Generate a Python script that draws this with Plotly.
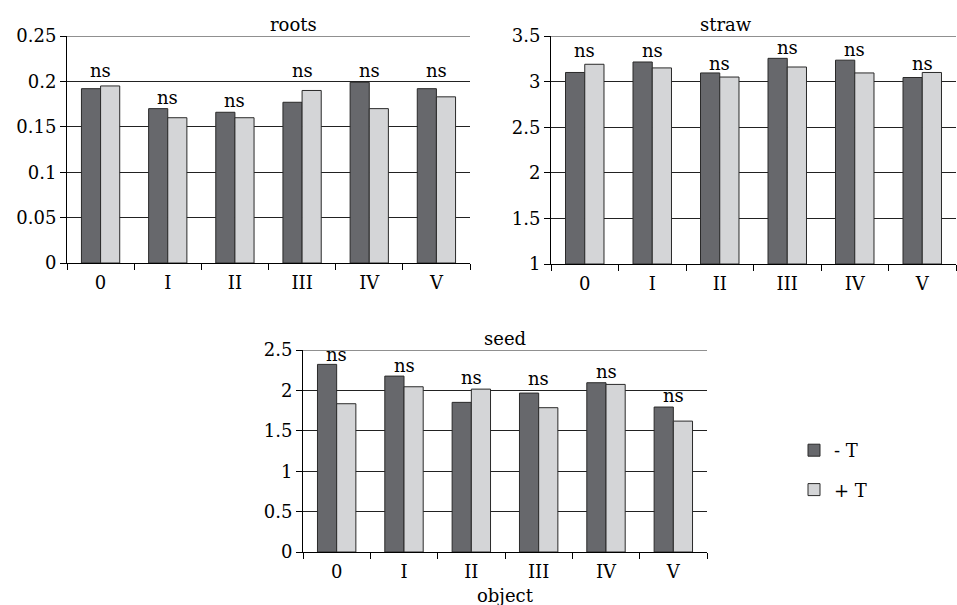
import plotly.graph_objects as go

categories = ["0", "I", "II", "III", "IV", "V"]

roots_minus = [0.192, 0.170, 0.166, 0.177, 0.199, 0.192]
roots_plus = [0.195, 0.160, 0.160, 0.190, 0.170, 0.183]
roots_ns = [0.2034, 0.174, 0.1707, 0.2034, 0.2034, 0.2034]

straw_minus = [3.10, 3.215, 3.095, 3.255, 3.235, 3.045]
straw_plus = [3.19, 3.15, 3.05, 3.16, 3.095, 3.10]
straw_ns = [3.26, 3.26, 3.12, 3.29, 3.265, 3.12]

seed_minus = [2.322, 2.177, 1.852, 1.967, 2.095, 1.794]
seed_plus = [1.835, 2.045, 2.016, 1.786, 2.074, 1.620]
seed_ns = [2.347, 2.219, 2.066, 2.054, 2.14, 1.847]

roots_ticks = [0, 0.05, 0.1, 0.15, 0.2, 0.25]
roots_ticktext = ["0", "0.05", "0.1", "0.15", "0.2", "0.25"]
straw_ticks = [1, 1.5, 2, 2.5, 3, 3.5]
straw_ticktext = ["1", "1.5", "2", "2.5", "3", "3.5"]
seed_ticks = [0, 0.5, 1, 1.5, 2, 2.5]
seed_ticktext = ["0", "0.5", "1", "1.5", "2", "2.5"]

series_names = ["- T", "+ T"]

W, H = 957, 605
FONT = "DejaVu Serif"
FS = 18
DARK = "#67686c"
LIGHT = "#d4d5d7"
EDGE = "#2a2a2a"

def px_x(p):
    return p / W

def px_y(p):
    return 1 - p / H

panels = [
    dict(name="roots", minus=roots_minus, plus=roots_plus, ns=roots_ns,
         ticks=roots_ticks, ticktext=roots_ticktext, rng=[0, 0.25],
         xd=[px_x(67), px_x(470)], yd=[px_y(263), px_y(36)]),
    dict(name="straw", minus=straw_minus, plus=straw_plus, ns=straw_ns,
         ticks=straw_ticks, ticktext=straw_ticktext, rng=[1, 3.5],
         xd=[px_x(551), px_x(956)], yd=[px_y(264), px_y(36)]),
    dict(name="seed", minus=seed_minus, plus=seed_plus, ns=seed_ns,
         ticks=seed_ticks, ticktext=seed_ticktext, rng=[0, 2.5],
         xd=[px_x(303), px_x(707)], yd=[px_y(552), px_y(350)]),
]

fig = go.Figure()
annotations = []
shapes = []
for i, p in enumerate(panels):
    sfx = "" if i == 0 else str(i + 1)
    xa, ya = "x" + sfx, "y" + sfx
    show = (i == 2)
    lo = p["rng"][0]
    fig.add_trace(go.Bar(x=categories, y=[v - lo for v in p["minus"]], base=lo,
                         name=series_names[0],
                         marker=dict(color=DARK, line=dict(color=EDGE, width=1)),
                         xaxis=xa, yaxis=ya, showlegend=show, legendgroup="a"))
    fig.add_trace(go.Bar(x=categories, y=[v - lo for v in p["plus"]], base=lo,
                         name=series_names[1],
                         marker=dict(color=LIGHT, line=dict(color=EDGE, width=1)),
                         xaxis=xa, yaxis=ya, showlegend=show, legendgroup="b"))
    fig.update_layout(**{
        "xaxis" + sfx: dict(domain=p["xd"], anchor=ya, type="category",
                            range=[-0.5, 5.5], showline=True, linecolor="black",
                            linewidth=1, ticks="outside", tickson="boundaries",
                            ticklen=6, tickcolor="black", showgrid=False,
                            automargin=False,
                            tickfont=dict(family=FONT, size=FS, color="black"),
                            ticklabelstandoff=3),
        "yaxis" + sfx: dict(domain=p["yd"], anchor=xa, range=p["rng"],
                            tickvals=p["ticks"], ticktext=p["ticktext"],
                            showline=True, linecolor="black", linewidth=1,
                            ticks="outside", ticklen=6, tickcolor="black",
                            showgrid=True, gridcolor="#222222", gridwidth=1,
                            zeroline=False, automargin=False,
                            tickfont=dict(family=FONT, size=FS, color="black")),
    })
    # top gridline at range maximum
    shapes.append(dict(type="line", xref=xa + " domain", yref=ya,
                       x0=0, x1=1, y0=p["rng"][1], y1=p["rng"][1],
                       line=dict(color="#222222", width=1), layer="below"))
    for c, v in zip(categories, p["ns"]):
        annotations.append(dict(x=c, y=v, xref=xa, yref=ya, text="ns",
                                showarrow=False, yanchor="bottom", yshift=-5,
                                font=dict(family=FONT, size=FS, color="black")))
    annotations.append(dict(x=(p["xd"][0] + p["xd"][1]) / 2, y=p["yd"][1],
                            xref="paper", yref="paper", text=p["name"],
                            showarrow=False, yanchor="bottom", yshift=-1,
                            font=dict(family=FONT, size=FS, color="black")))

annotations.append(dict(x=(panels[2]["xd"][0] + panels[2]["xd"][1]) / 2,
                        y=px_y(595), xref="paper", yref="paper", text="object",
                        showarrow=False, yanchor="middle",
                        font=dict(family=FONT, size=FS, color="black")))

fig.update_layout(
    width=W, height=H,
    margin=dict(l=0, r=0, t=0, b=0, autoexpand=False),
    paper_bgcolor="white", plot_bgcolor="white",
    barmode="group", bargap=0.43, bargroupgap=0,
    annotations=annotations, shapes=shapes,
    showlegend=True,
    legend=dict(x=px_x(794), y=px_y(432), xanchor="left", yanchor="top",
                font=dict(family=FONT, size=FS, color="black"),
                tracegroupgap=13, bgcolor="rgba(0,0,0,0)"),
)

fig.write_html(
    "out.html",
    config={"displayModeBar": False},
    post_script="document.body.style.margin='0';document.body.style.overflow='hidden';",
)
